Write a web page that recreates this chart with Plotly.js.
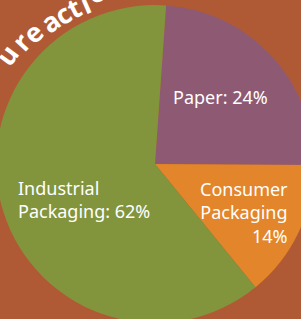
<!DOCTYPE html>
<html>
<head>
<meta charset="utf-8">
<script src="https://cdn.plot.ly/plotly-3.0.1.min.js"></script>
<style>
html,body{margin:0;padding:0;width:301px;height:319px;overflow:hidden;background:#b05a35;}
#chart{position:absolute;left:-15px;top:-6px;width:340px;height:340px;}
</style>
</head>
<body>
<div id="chart"></div>
<script>
// ---- data ----
var categories = ["Paper", "Consumer Packaging", "Industrial Packaging"];
var values = [24, 14, 62];
var labelLines = ["Paper: ", "Consumer<br>Packaging<br>", "Industrial<br>Packaging: "];
var colors = ["#8e5a73", "#e3852a", "#82953c"];
var arcLetters = ["u", "r", "e", "a", "c", "t", "i", "o"];

// ---- geometry of the oversized plotting area ----
var W = 340, H = 340, OX = 15, OY = 6;
function px(x){ return (x + OX) / W; }
function py(y){ return 1 - (y + OY) / H; }

var bg = "#b05a35";
var labelFont = {family: "Noto Sans", size: 18, color: "#ffffff"};

var annotations = [
  {text: labelLines[0] + values[0] + "%", x: px(220), y: py(97), xanchor: "center", yanchor: "middle", align: "center"},
  {text: labelLines[1] + values[1] + "%", x: px(290), y: py(212), xanchor: "right", yanchor: "middle", align: "right"},
  {text: labelLines[2] + values[2] + "%", x: px(16), y: py(200), xanchor: "left", yanchor: "middle", align: "left"}
].map(function(a){
  a.xref = "paper"; a.yref = "paper"; a.showarrow = false; a.font = labelFont; return a;
});

// curved decorative heading text (partly cropped) above the pie
var arcAngles = [-53.6, -47.7, -43.0, -36.5, -31.5, -27.4, -23.5, -18.8];
var arcRadii  = [184, 181.5, 179.5, 177, 176, 176, 175.5, 182];
var cx = 155, cy = 164;
arcLetters.forEach(function(ch, i){
  var t = arcAngles[i] * Math.PI / 180;
  var x = cx + arcRadii[i] * Math.sin(t), y = cy - arcRadii[i] * Math.cos(t);
  annotations.push({
    text: ch, x: px(x), y: py(y), xref: "paper", yref: "paper",
    xanchor: "center", yanchor: "middle", showarrow: false,
    textangle: arcAngles[i],
    font: {family: "Open Sans", size: 27, color: "#ffffff", weight: 700}
  });
});

var trace = {
  type: "pie",
  labels: categories,
  values: values,
  sort: false,
  direction: "clockwise",
  rotation: 4,
  marker: {colors: colors, line: {width: 0}},
  textinfo: "none",
  hoverinfo: "none",
  showlegend: false,
  domain: {x: [11 / W, 329 / W], y: [11 / H, 329 / H]}
};

var layout = {
  width: W, height: H,
  margin: {l: 0, r: 0, t: 0, b: 0},
  paper_bgcolor: bg,
  plot_bgcolor: bg,
  showlegend: false,
  annotations: annotations
};

Plotly.newPlot("chart", [trace], layout, {displayModeBar: false, staticPlot: true});
</script>
</body>
</html>
